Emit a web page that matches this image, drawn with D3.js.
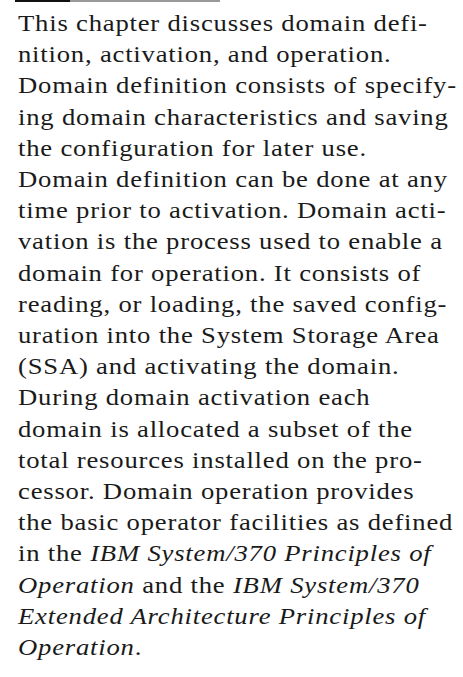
<!DOCTYPE html>
<html>
<head>
<meta charset="utf-8">
<script src="https://cdn.jsdelivr.net/npm/d3@7"></script>
<style>
  body { margin: 0; background: #fff; }
  svg { display: block; }
  text.body { font-family: 'Liberation Serif', 'Times New Roman', Times, serif; }
</style>
</head>
<body>
<svg width="463" height="677"></svg>
<script>
(function() {
  // text of the page, one entry per printed line; *...* marks italics
  const lines = [
    'This chapter discusses domain defi-',
    'nition, activation, and operation.',
    'Domain definition consists of specify-',
    'ing domain characteristics and saving',
    'the configuration for later use.',
    'Domain definition can be done at any',
    'time prior to activation. Domain acti-',
    'vation is the process used to enable a',
    'domain for operation. It consists of',
    'reading, or loading, the saved config-',
    'uration into the System Storage Area',
    '(SSA) and activating the domain.',
    'During domain activation each',
    'domain is allocated a subset of the',
    'total resources installed on the pro-',
    'cessor. Domain operation provides',
    'the basic operator facilities as defined',
    'in the *IBM System/370 Principles of*',
    '*Operation* and the *IBM System/370*',
    '*Extended Architecture Principles of*',
    '*Operation*.'
  ];

  let svg = d3.select('svg'),
      width = +svg.attr('width'),
      height = +svg.attr('height');

  let left = 18, right = 457;

  let y = d3.scaleLinear()
    .domain([0, lines.length - 1])
    .range([31, 655]);

  // rule across the top of the column
  svg.append('line')
    .attr('x1', 70).attr('x2', 220)
    .attr('y1', 1).attr('y2', 1)
    .attr('stroke', '#777').attr('stroke-width', 1.6);
  svg.append('line')
    .attr('x1', 15).attr('x2', 70)
    .attr('y1', 1).attr('y2', 1)
    .attr('stroke', '#111').attr('stroke-width', 2);

  function segments(s) {
    return s.split('*').map(function(t, i) {
      return { text: t, italic: i % 2 === 1 };
    }).filter(function(d) { return d.text.length; });
  }

  let body = svg.append('g');

  let text = body.selectAll('text')
    .data(lines)
    .enter().append('text')
    .attr('class', 'body')
    .attr('x', 0)
    .attr('y', function(d, i) { return y(i); })
    .attr('font-size', 23.5)
    .attr('letter-spacing', 0.7)
    .attr('fill', '#1a1a1a')
    .style('white-space', 'pre');

  text.selectAll('tspan')
    .data(function(d) { return segments(d); })
    .enter().append('tspan')
    .attr('font-style', function(d) { return d.italic ? 'italic' : 'normal'; })
    .text(function(d) { return d.text; });

  // widen the face so the longest line fills the column
  let widest = d3.max(text.nodes(), function(n) {
    return n.getComputedTextLength();
  });
  let k = (right - left) / widest;
  body.attr('transform', 'translate(' + left + ',0) scale(' + k + ',1)');
})();
</script>
</body>
</html>
